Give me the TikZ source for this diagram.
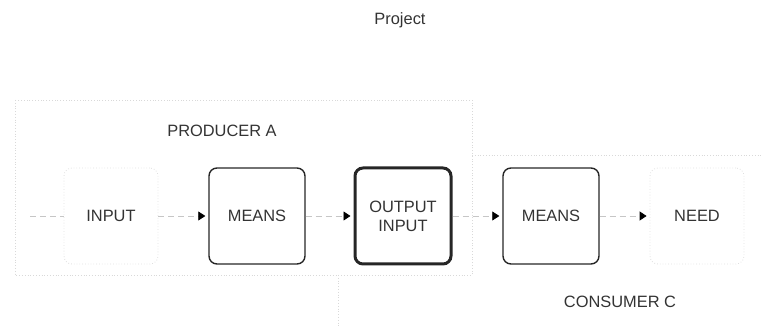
\documentclass[tikz,border=0pt]{standalone}
\usepackage{fontspec}
\setmainfont{Liberation Sans}
\usetikzlibrary{arrows.meta}
\tikzstyle{means} = [rectangle, rounded corners=4pt, minimum width=48pt, minimum height=48pt, text centered, draw=black!85, line width=0.7pt]
\tikzstyle{shared} = [means, line width=1.5pt, align=center]
\tikzstyle{faint} = [rectangle, rounded corners=4pt, minimum width=47pt, minimum height=48pt, text centered, draw=gray!25, densely dotted]
\tikzstyle{link} = [gray!45, densely dashed]
\tikzstyle{arrow} = [link, -{Triangle[black, length=3.5pt, width=4.5pt]}, shorten >=1.5pt]
\tikzstyle{region} = [gray!30, densely dotted]

\begin{document}
\begin{tikzpicture}[x=0.5pt, y=-0.5pt, font=\fontsize{8.2}{9.5}\selectfont, text=black!80]
\useasboundingbox (0,0) rectangle (762,326);

% Regions
\draw [region] (15,100) rectangle (472,275);
\draw [region] (472,155) -- (762,155);
\draw [region] (338,275) -- (338,326);

% Labels
\node (project) at (400,20) {Project};
\node (producer) at (222,131) {PRODUCER A};
\node (consumer) at (620,302) {CONSUMER C};

% Nodes
\coordinate (source) at (30,216);
\node (input) at (111,216) [faint] {INPUT};
\node (meansA) at (257,216) [means] {MEANS};
\node (shared) at (403,216) [shared] {OUTPUT\\INPUT};
\node (meansC) at (551,216) [means] {MEANS};
\node (need) at (697,216) [faint] {NEED\hspace{5pt}};

% Arrows
\draw [link] (source) -- (input);
\draw [arrow] (input) -- (meansA);
\draw [arrow] (meansA) -- (shared);
\draw [arrow] (shared) -- (meansC);
\draw [arrow] (meansC) -- (need);

\end{tikzpicture}
\end{document}
